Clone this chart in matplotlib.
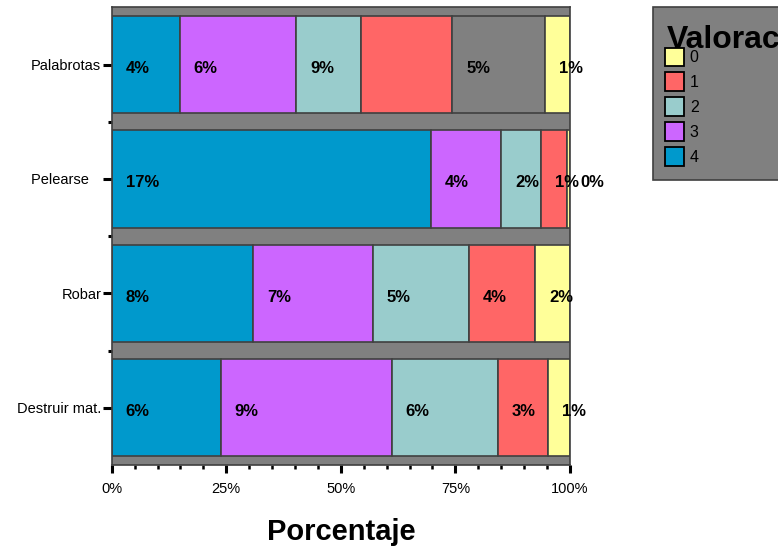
import matplotlib
matplotlib.use("Agg")
import matplotlib.pyplot as plt
from matplotlib.patches import Patch, Rectangle
from matplotlib.ticker import MultipleLocator, FuncFormatter

plt.rcParams['font.family'] = ['Liberation Sans', 'DejaVu Sans']

categories = ["Palabrotas", "Pelearse", "Robar", "Destruir mat."]
tick_labels = ["Palabrotas", "Pelearse   ", "Robar", "Destruir mat."]

# segment shares (% of bar length), in stacking order left -> right
val_4 = [14.85, 69.7, 30.85, 23.8]
val_3 = [25.4, 15.3, 26.1, 37.3]
val_2 = [14.2, 8.7, 21.0, 23.2]
val_1 = [19.9, 5.6, 14.4, 10.85]
val_sin = [20.1, 0.0, 0.0, 0.0]
val_0 = [5.6, 0.7, 7.6, 4.9]

lab_4 = ["4%", "17%", "8%", "6%"]
lab_3 = ["6%", "4%", "7%", "9%"]
lab_2 = ["9%", "2%", "5%", "6%"]
lab_1 = ["", "1%", "4%", "3%"]
lab_sin = ["5%", "", "", ""]
lab_0 = ["1%", "0%", "2%", "1%"]

legend_title = "Valoración"
legend_labels = ["0", "1", "2", "3", "4"]

colors = {"4": "#0099CC", "3": "#CC66FF", "2": "#99CCCC", "1": "#FF6666",
          "sin": "#808080", "0": "#FFFF99"}

series = [("4", val_4, lab_4), ("3", val_3, lab_3), ("2", val_2, lab_2),
          ("1", val_1, lab_1), ("sin", val_sin, lab_sin), ("0", val_0, lab_0)]

W, H = 778, 550
fig = plt.figure(figsize=(W / 100, H / 100), dpi=100)
ax = fig.add_axes([0.1436, 0.1545, 0.5890, 0.8322])
ax.set_facecolor("#808080")

ypos = list(range(len(categories)))
left = [0.0] * len(categories)
for name, vals, labs in series:
    ax.barh(ypos, vals, left=left, height=0.85, color=colors[name],
            edgecolor="#404040", linewidth=1.2, zorder=2)
    for i, (v, lab) in enumerate(zip(vals, labs)):
        if lab:
            ax.annotate(lab, xy=(left[i], ypos[i]), xytext=(14, -4),
                        textcoords="offset pixels",
                        ha="left", va="center", fontsize=12,
                        fontweight="bold", color="black", zorder=5,
                        annotation_clip=False)
    left = [l + v for l, v in zip(left, vals)]

ax.set_xlim(0, 100)
ax.set_ylim(len(categories) - 0.5, -0.5)
ax.set_yticks(ypos)
ax.set_yticklabels(tick_labels, fontsize=10.5)
ax.set_yticks([0.5, 1.5, 2.5], minor=True)
ax.xaxis.set_major_locator(MultipleLocator(25))
ax.xaxis.set_minor_locator(MultipleLocator(5))
ax.xaxis.set_major_formatter(FuncFormatter(lambda x, p: f"{int(x)}%"))
ax.tick_params(axis="x", which="major", length=6, width=2.2, labelsize=10.5,
               pad=6, color="black")
ax.tick_params(axis="x", which="minor", length=2.8, width=1.8, color="black")
ax.tick_params(axis="y", which="major", length=6.5, width=2.2, pad=1,
               color="black")
ax.tick_params(axis="y", which="minor", length=3, width=2.2, color="black")
for s in ax.spines.values():
    s.set_color("#404040")
    s.set_linewidth(1.2)

ax.set_xlabel("Porcentaje", fontsize=21, fontweight="bold", labelpad=16)

# legend frame + title
fig.patches.append(Rectangle((653 / W, 1 - 180 / H), 140 / W, 173 / H,
                             transform=fig.transFigure, facecolor="#808080",
                             edgecolor="#404040", linewidth=1.2, zorder=0))
fig.text(667 / W, 1 - 48 / H, legend_title, fontsize=23, fontweight="bold",
         ha="left", va="baseline", color="black", zorder=1)

leg_handles = [Patch(facecolor=colors[k], edgecolor="black", linewidth=1.3)
               for k in legend_labels]
leg = fig.legend(leg_handles, legend_labels, loc="upper left",
                 bbox_to_anchor=(665 / W, 1 - 47.5 / H),
                 bbox_transform=fig.transFigure,
                 fontsize=11.5, frameon=False, borderaxespad=0,
                 borderpad=0, handlelength=1.2, handleheight=1.45,
                 handletextpad=0.35, labelspacing=0.375)
leg.set_zorder(3)

fig.savefig("out.png", dpi=100)
